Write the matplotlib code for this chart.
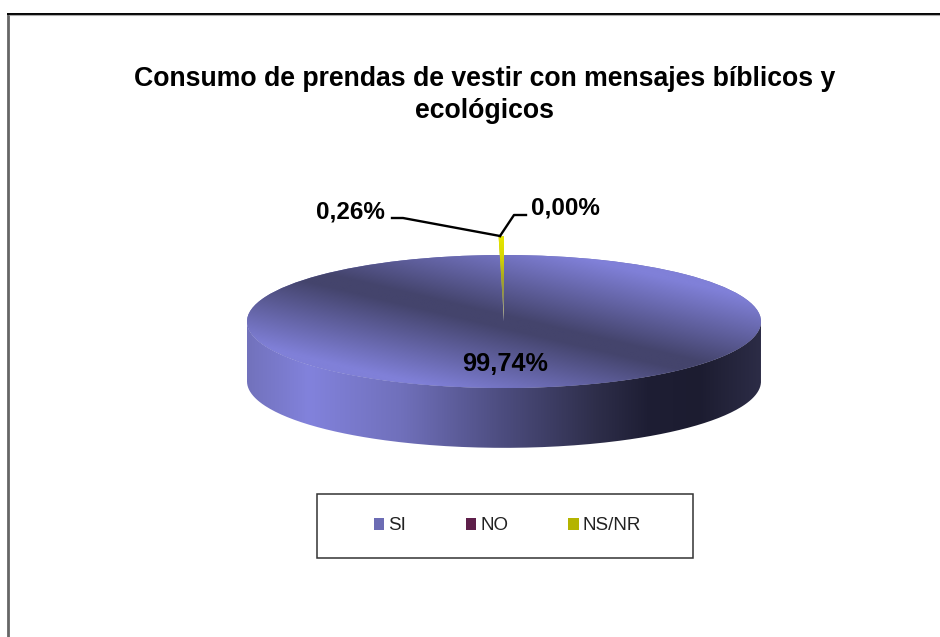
import numpy as np
import matplotlib
matplotlib.use('Agg')
import matplotlib.pyplot as plt
from matplotlib.colors import LinearSegmentedColormap
from matplotlib.patches import PathPatch, Rectangle
from matplotlib.path import Path

title = 'Consumo de prendas de vestir con mensajes bíblicos y\necológicos'
labels = ['SI', 'NO', 'NS/NR']
values = [99.74, 0.00, 0.26]
legend_colors = ['#6c6cb4', '#5e1f4a', '#b4b400']

W, H = 940, 637
plt.rcParams['font.family'] = ['Liberation Sans', 'DejaVu Sans']

fig = plt.figure(figsize=(W / 100, H / 100), dpi=100, facecolor='white')

# overlay in pixel coordinates for frame, text and leader lines
over = fig.add_axes([0, 0, 1, 1], zorder=5)
over.set_xlim(0, W)
over.set_ylim(H, 0)
over.axis('off')

# pie geometry in pixels
left, right = 247, 761
cy, ry = 321.5, 66.5
top_lim, bottom_lim = 1.3, -1.9  # room for the raised slice and the wall
depth = 0.9
y_top = cy - top_lim * ry
y_bot = cy - bottom_lim * ry

ax = fig.add_axes([left / W, 1 - y_bot / H, (right - left) / W, (y_bot - y_top) / H], zorder=2)
wedges, _ = ax.pie(values, colors=legend_colors, startangle=90, counterclock=False)
ax.set_aspect('auto')
ax.set_xlim(-1, 1)
ax.set_ylim(bottom_lim, top_lim)
ax.axis('off')
extent = (-1, 1, bottom_lim, top_lim)

# top face: tilted band, dark through the middle
px, py = np.meshgrid(np.linspace(left, right, 520), np.linspace(y_top, y_bot, 220))
band = np.abs((py - cy) - 0.235 * (px - 504))
top_cmap = LinearSegmentedColormap.from_list('top', ['#44446c', '#8080d8'])
top_im = ax.imshow(np.clip((band - 6) / 76, 0, 1), cmap=top_cmap, vmin=0, vmax=1, extent=extent,
                   origin='upper', aspect='auto', zorder=3)
top_im.set_clip_path(wedges[0])

# side wall: horizontal gradient clipped to the lower rim
t = np.linspace(np.pi, 2 * np.pi, 200)
rim = np.column_stack([np.cos(t), np.sin(t)])
wall = np.vstack([rim, (rim + [0, -depth])[::-1]])
wall_patch = PathPatch(Path(np.vstack([wall, wall[0]])), fc='none', ec='none')
ax.add_patch(wall_patch)
wall_cmap = LinearSegmentedColormap.from_list('wall', [
    (0.0, '#7272bc'), (0.12, '#8282dc'), (0.3, '#7070bb'), (0.5, '#4c4c7e'),
    (0.68, '#2e2e4a'), (0.78, '#1e1e34'), (0.88, '#1c1c30'), (1.0, '#2c2c46')])
wall_im = ax.imshow(np.linspace(0, 1, 256)[None, :], cmap=wall_cmap, extent=extent,
                    aspect='auto', zorder=2)
wall_im.set_clip_path(wall_patch)

# NS/NR slice stands above the disc
wedges[2].set_radius(1.28)
wedges[2].set_clip_on(False)
slice_cmap = LinearSegmentedColormap.from_list('slice', ['#e8e800', '#d8d800', '#a8a820', '#8a8a60', '#c0c0c8'])
slice_im = ax.imshow(np.linspace(0, 1, 128)[:, None], cmap=slice_cmap,
                     extent=(-1, 1, 0, 1.3), aspect='auto', zorder=4)
slice_im.set_clip_path(wedges[2])
ax.set_xlim(-1, 1)
ax.set_ylim(bottom_lim, top_lim)

# chart frame, open on the right and bottom
over.plot([8, 8], [14, H], color='#666666', lw=2, solid_capstyle='butt')
over.plot([7, W], [13.5, 13.5], color='black', lw=1.4, solid_capstyle='butt')
over.plot([9, W], [15, 15], color='#aaaaaa', lw=0.8, solid_capstyle='butt')

over.text(484.5, 95, title, ha='center', va='center', fontsize=19.2, fontweight='bold',
          linespacing=1.3, color='black')

fmt = lambda v: f'{v:.2f}%'.replace('.', ',')
over.text(505, 364, fmt(values[0]), ha='center', va='center', fontsize=18.2, fontweight='bold')
over.text(350.5, 218, fmt(values[2]), ha='center', va='baseline', fontsize=17.5, fontweight='bold')
over.text(565.5, 215, fmt(values[1]), ha='center', va='baseline', fontsize=17.5, fontweight='bold')
over.plot([392, 403, 500], [218, 218, 236], color='black', lw=1.7)
over.plot([526, 514, 500], [215, 215, 236], color='black', lw=1.7)

# legend box
over.add_patch(Rectangle((316.5, 493.5), 376, 64, fc='white', ec='#333333', lw=1.1))
fig.legend(wedges, labels, ncols=3, loc='center', bbox_to_anchor=(507.5 / W, 1 - 526 / H),
           frameon=False, fontsize=13.5, handlelength=0.55, handleheight=0.55,
           handletextpad=0.22, columnspacing=3.2, labelcolor='#222222').set_zorder(6)

fig.savefig('out.png', dpi=100)
